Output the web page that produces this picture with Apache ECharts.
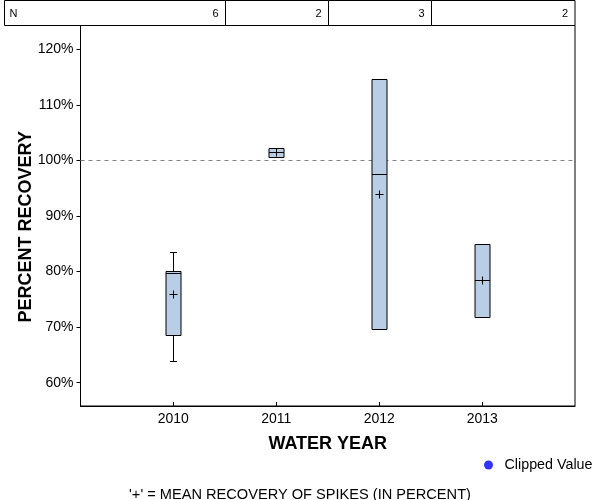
<!DOCTYPE html>
<html>
<head>
<meta charset="utf-8">
<script src="https://cdn.jsdelivr.net/npm/echarts@6/dist/echarts.min.js"></script>
<style>html,body{margin:0;padding:0;background:#fff}#c{width:600px;height:500px}</style>
</head>
<body>
<div id="c"></div>
<script>
// ---- data ----
const years = [2010, 2011, 2012, 2013];
const counts = [6, 2, 3, 2];
const whiskerLow = [63.9, null, null, null];
const q1 = [68.5, 100.7, 69.6, 71.8];
const median = [79.7, 101.45, 97.6, 78.45];
const q3 = [80.1, 102.2, 114.7, 84.9];
const whiskerHigh = [83.6, null, null, null];
const mean = [75.9, 101.45, 93.9, 78.4];
const yTicks = [60, 70, 80, 90, 100, 110, 120];
const xTicks = years;
const refLine = 100;

const FONT = 'Liberation Sans, Arial, sans-serif';
const xMin = 2009.1, xMax = 2013.9, yMin = 55.8, yMax = 124.3;

const boxData = years.map((y, i) => [
  y,
  whiskerLow[i] == null ? q1[i] : whiskerLow[i],
  q1[i], median[i], q3[i],
  whiskerHigh[i] == null ? q3[i] : whiskerHigh[i],
  mean[i]
]);
const tableData = years.map((y, i) => [y, counts[i]]);

const chart = echarts.init(document.getElementById('c'), null, {renderer: 'canvas'});
const blk = {stroke: '#000', lineWidth: 1};

chart.setOption({
  animation: false,
  textStyle: {fontFamily: FONT},
  title: {
    text: "'+' = MEAN RECOVERY OF SPIKES (IN PERCENT)",
    left: 'center', top: 482,
    textStyle: {fontFamily: FONT, fontSize: 14.6, fontWeight: 'normal', color: '#000'}
  },
  legend: {
    data: ['Clipped Value'],
    left: 484, top: 458, padding: 0,
    itemWidth: 22, itemHeight: 9, icon: 'circle',
    textStyle: {fontFamily: FONT, fontSize: 14.3, color: '#000'}
  },
  grid: {
    left: 80.5, right: 25, top: 25.5, bottom: 94,
    show: true, borderColor: '#000', borderWidth: 1, backgroundColor: 'transparent'
  },
  xAxis: {
    type: 'value', min: xMin, max: xMax,
    axisLine: {show: true, lineStyle: {color: '#000', width: 1}},
    axisTick: {show: true, inside: true, length: 4, customValues: xTicks, lineStyle: {color: '#000'}},
    axisLabel: {customValues: xTicks, formatter: v => String(v), fontFamily: FONT, fontSize: 14, color: '#000', margin: 6},
    splitLine: {show: false},
    name: 'WATER YEAR', nameLocation: 'middle', nameGap: 29, nameMoveOverlap: false,
    nameTextStyle: {fontFamily: FONT, fontSize: 18, fontWeight: 'bold', color: '#000'}
  },
  yAxis: {
    type: 'value', min: yMin, max: yMax,
    axisLine: {show: true, lineStyle: {color: '#000', width: 1}},
    axisTick: {show: true, inside: false, length: 4, customValues: yTicks, lineStyle: {color: '#000'}},
    axisLabel: {customValues: yTicks, formatter: v => v + '%', fontFamily: FONT, fontSize: 14, color: '#000', margin: 7},
    splitLine: {show: false},
    name: 'PERCENT RECOVERY', nameLocation: 'middle', nameGap: 45, nameMoveOverlap: false,
    nameTextStyle: {fontFamily: FONT, fontSize: 18, fontWeight: 'bold', color: '#000', padding: [0, 22, 0, 0]}
  },
  series: [
    {
      type: 'line', z: 1, silent: true, symbol: 'none',
      data: [[xMin, refLine], [xMax, refLine]],
      lineStyle: {color: '#808080', width: 1, type: [4, 4]}
    },
    {
      type: 'custom', z: 3, silent: true,
      data: boxData,
      encode: {x: 0, y: [1, 2, 3, 4, 5, 6]},
      renderItem: function (params, api) {
        const x = Math.round(api.coord([api.value(0), 0])[0]) + 0.5;
        const Y = k => Math.round(api.coord([api.value(0), api.value(k)])[1]) + 0.5;
        const wl = Y(1), b1 = Y(2), md = Y(3), b3 = Y(4), wh = Y(5), mn = Y(6);
        const hw = 7.5, cw = 3.5, pw = 4;
        const ch = [];
        if (wh < b3 - 0.6) {
          ch.push({type: 'line', shape: {x1: x, y1: wh, x2: x, y2: b3}, style: blk});
          ch.push({type: 'line', shape: {x1: x - cw, y1: wh, x2: x + cw, y2: wh}, style: blk});
        }
        if (wl > b1 + 0.6) {
          ch.push({type: 'line', shape: {x1: x, y1: b1, x2: x, y2: wl}, style: blk});
          ch.push({type: 'line', shape: {x1: x - cw, y1: wl, x2: x + cw, y2: wl}, style: blk});
        }
        ch.push({type: 'rect', shape: {x: x - hw, y: b3, width: hw * 2, height: b1 - b3},
                 style: {fill: '#B9CDE5', stroke: '#000', lineWidth: 1}});
        ch.push({type: 'line', shape: {x1: x - hw, y1: md, x2: x + hw, y2: md}, style: blk});
        ch.push({type: 'line', shape: {x1: x - pw, y1: mn, x2: x + pw, y2: mn}, style: blk});
        ch.push({type: 'line', shape: {x1: x, y1: mn - pw, x2: x, y2: mn + pw}, style: blk});
        return {type: 'group', children: ch};
      }
    },
    {
      type: 'custom', z: 4, silent: true, clip: false,
      data: tableData,
      encode: {x: 0},
      renderItem: function (params, api) {
        const i = params.dataIndex;
        const cs = params.coordSys;
        const yr = api.value(0);
        const left = i === 0 ? 4.5 : Math.round(api.coord([yr - 0.5, yMin])[0]) + 0.5;
        const right = i === years.length - 1 ? cs.x + cs.width : Math.round(api.coord([yr + 0.5, yMin])[0]) + 0.5;
        const top = 0.5, bot = 25.5;
        const ch = [{type: 'rect', shape: {x: left, y: top, width: right - left, height: bot - top},
                     style: {fill: '#fff', stroke: '#000', lineWidth: 1}}];
        ch.push({type: 'text', style: {text: String(api.value(1)), x: right - 7, y: 14,
                 align: 'right', verticalAlign: 'middle', font: '11px ' + FONT, fill: '#000'}});
        if (i === 0) {
          ch.push({type: 'text', style: {text: 'N', x: left + 5, y: 14,
                   align: 'left', verticalAlign: 'middle', font: '11px ' + FONT, fill: '#000'}});
        }
        return {type: 'group', children: ch};
      }
    },
    {
      type: 'scatter', name: 'Clipped Value', data: [],
      itemStyle: {color: '#0000FF'}
    }
  ]
});
</script>
</body>
</html>
